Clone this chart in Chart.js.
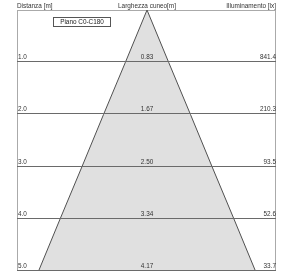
<!DOCTYPE html>
<html>
<head>
<meta charset="utf-8">
<script src="https://cdn.jsdelivr.net/npm/chart.js@4.4.0/dist/chart.umd.min.js"></script>
<style>
  html, body { margin: 0; padding: 0; background: #fff; }
  #wrap { width: 289px; height: 273px; }
</style>
</head>
<body>
<div id="wrap"><canvas id="myChart" width="289" height="273"></canvas></div>
<script>
// distances [m], wedge width [m], illuminance [lx]
var distanze = [1.0, 2.0, 3.0, 4.0, 5.0];
var larghezze = [0.83, 1.67, 2.50, 3.34, 4.17];
var illuminamento = [841.4, 210.3, 93.5, 52.6, 33.7];
var distLabels = ['1.0', '2.0', '3.0', '4.0', '5.0'];
var largLabels = ['0.83', '1.67', '2.50', '3.34', '4.17'];
var illumLabels = ['841.4', '210.3', '93.5', '52.6', '33.7'];

// cone outline: apex, left edge down, right edge up
var cone = [{x: 0, y: 0}];
for (var i = 0; i < distanze.length; i++) cone.push({x: -larghezze[i] / 2, y: distanze[i]});
for (var j = distanze.length - 1; j >= 0; j--) cone.push({x: larghezze[j] / 2, y: distanze[j]});
cone.push({x: 0, y: 0});

var FONT = '6.4px "Liberation Sans", Arial, sans-serif';

var frame = {
    id: 'frame',
    beforeDatasetsDraw: function (chart) {
        var c = chart.ctx, a = chart.chartArea;
        c.save();
        c.lineWidth = 1;
        c.strokeStyle = '#aaaaaa';
        c.beginPath();
        c.moveTo(a.left, a.top + 0.5); c.lineTo(a.right, a.top + 0.5);
        c.moveTo(a.left + 0.5, a.top); c.lineTo(a.left + 0.5, a.bottom);
        c.moveTo(a.right - 0.5, a.top); c.lineTo(a.right - 0.5, a.bottom);
        c.stroke();
        c.restore();
    },
    afterDatasetsDraw: function (chart) {
        var c = chart.ctx, a = chart.chartArea, ys = chart.scales.y, xs = chart.scales.x;
        c.save();
        c.lineWidth = 1;
        c.strokeStyle = '#6a6a6a';
        c.font = FONT;
        c.fillStyle = '#333';
        c.textBaseline = 'bottom';
        for (var i = 0; i < distanze.length; i++) {
            var py = Math.round(ys.getPixelForValue(distanze[i])) - 0.5;
            c.beginPath();
            c.moveTo(a.left, py); c.lineTo(a.right, py);
            c.stroke();
            c.textAlign = 'left';
            c.fillText(distLabels[i], a.left + 1, py - 1);
            c.textAlign = 'center';
            c.fillText(largLabels[i], xs.getPixelForValue(0), py - 1);
            c.textAlign = 'right';
            c.fillText(illumLabels[i], a.right, py - 1);
        }
        // headers
        c.textAlign = 'left';
        c.fillText('Distanza [m]', a.left, a.top - 1);
        c.textAlign = 'center';
        c.fillText('Larghezza cuneo[m]', xs.getPixelForValue(0), a.top - 1);
        c.textAlign = 'right';
        c.fillText('Illuminamento [lx]', a.right, a.top - 1);
        // legend box
        c.fillStyle = '#fff';
        c.fillRect(53, 17, 57, 9);
        c.strokeStyle = '#555';
        c.strokeRect(53.5, 17.5, 57, 9);
        c.fillStyle = '#222';
        c.textAlign = 'center';
        c.textBaseline = 'middle';
        c.fillText('Piano C0-C180', 82, 22.5);
        c.restore();
    }
};

var ctx = document.getElementById('myChart').getContext('2d');
var chart = new Chart(ctx, {
    type: 'scatter',
    data: {
        datasets: [{
            label: 'Piano C0-C180',
            data: cone,
            showLine: true,
            fill: 'shape',
            tension: 0,
            backgroundColor: '#e0e0e0',
            borderColor: '#505050',
            borderWidth: 1,
            pointRadius: 0
        }]
    },
    options: {
        responsive: false,
        animation: false,
        layout: { padding: { left: 17, right: 13, top: 10, bottom: 2 } },
        plugins: { legend: { display: false }, tooltip: { enabled: false } },
        scales: {
            x: { type: 'linear', display: false, min: -2.5, max: 2.48 },
            y: { type: 'linear', display: false, min: 0, max: 5, reverse: true }
        }
    },
    plugins: [frame]
});
</script>
</body>
</html>
